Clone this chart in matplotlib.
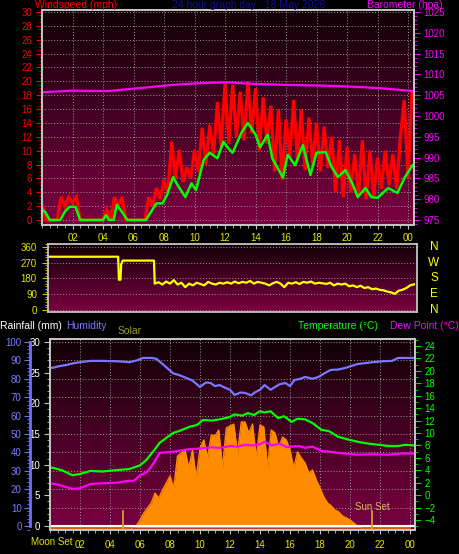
import numpy as np
import matplotlib
matplotlib.use('Agg')
import matplotlib.pyplot as plt
from matplotlib.ticker import MultipleLocator, FixedLocator, NullLocator
from matplotlib.colors import LinearSegmentedColormap
import matplotlib.transforms as mtransforms

plt.rcParams['font.family'] = ['Liberation Sans', 'DejaVu Sans']

W, H = 460, 554

# ---------------- data ----------------
xtick_hours = [2, 4, 6, 8, 10, 12, 14, 16, 18, 20, 22, 24]
xtick_labels = ['02', '04', '06', '08', '10', '12', '14', '16', '18', '20', '22', '00']

# wind gusts (mph), every 15 minutes from 00:00
gust_mph = [2.4, 0, 0, 0, 0, 3.3, 2.0, 3.3, 2.5, 3.3, 0, 0,
            0, 0, 0, 0, 0, 1.5, 0, 3.3, 2.0, 3.3, 0, 0,
            0, 0, 0, 0, 3.3, 2.0, 4.6, 3.0, 5.8, 4.0, 11.3, 6.0,
            10.1, 5.5, 7.6, 6.0, 10.1, 7.0, 13.3, 8.0, 13.7, 9.5, 17.0, 10.5,
            19.8, 11.0, 19.5, 12.0, 18.5, 11.5, 20.0, 12.5, 19.0, 10.0, 17.7, 11.0,
            16.5, 7.0, 15.9, 5.8, 14.5, 9.0, 17.3, 8.5, 15.9, 7.2, 14.8, 8.0,
            14.0, 7.0, 13.5, 7.5, 12.0, 4.0, 11.5, 3.3, 10.5, 4.0, 9.5, 3.5,
            11.5, 3.0, 10.0, 3.5, 9.0, 4.5, 10.0, 5.0, 9.5, 4.5, 12.0, 17.3,
            6.0, 18.3]

avg_hours = [0, 0.2, 0.5, 1.2, 1.5, 1.8, 2.2, 2.5, 4.0, 4.2,
             4.4, 4.7, 4.9, 5.3, 5.6, 6.8, 7.1, 7.5, 7.9, 8.2,
             8.6, 8.9, 9.4, 9.8, 10.1, 10.6, 11.0, 11.5, 11.9, 12.2,
             12.5, 13.1, 13.5, 14.0, 14.3, 14.8, 15.1, 15.8, 16.1, 16.6,
             17.1, 17.6, 18.0, 18.6, 19.0, 19.4, 19.9, 20.4, 20.7, 21.2,
             21.6, 22.0, 22.7, 23.3, 23.8, 24.3]
avg_mph = [1.5, 1.2, 0, 0, 1.2, 1.9, 1.9, 0, 0, 0.7,
           0, 0, 2.2, 1.0, 0, 0, 1.0, 2.4, 2.4, 3.6,
           6.2, 5.0, 3.3, 5.3, 4.3, 8.7, 9.7, 8.9, 11.3, 10.4,
           9.7, 12.7, 14.0, 12.3, 10.5, 12.3, 8.9, 6.1, 9.4, 7.9,
           10.8, 6.5, 9.7, 9.8, 7.6, 6.2, 7.2, 5.0, 3.3, 4.6,
           3.3, 3.2, 4.6, 3.9, 6.2, 7.9]

baro_hours = [0, 2, 4.3, 6.4, 8.6, 10.4, 12.1, 14, 16.4, 18.5, 20.7, 22.5, 24.3]
baro_hpa = [1005.7, 1006.1, 1006.0, 1006.7, 1007.5, 1007.9, 1008.1, 1007.7,
            1007.45, 1007.3, 1007.0, 1006.6, 1006.0]

# wind direction (degrees)
dir_hours_early = [0, 4.6, 4.65, 4.75, 4.8, 4.9, 6.95]
dir_deg_early = [303, 303, 172, 172, 260, 281, 281]
# every 15 minutes from 07:00 to 24:00
dir_deg_late = [150, 158, 145, 162, 150, 170, 145, 155, 130, 150, 140, 155,
                148, 140, 160, 150, 145, 155, 150, 158, 150, 162, 152, 160,
                155, 165, 150, 160, 155, 150, 140, 152, 160, 150, 130, 155,
                150, 158, 148, 160, 155, 162, 150, 155, 152, 148, 155, 140,
                150, 145, 150, 135, 140, 130, 138, 125, 130, 118, 122, 115,
                112, 105, 100, 92, 110, 115, 125, 140, 146]
compass = ['N', 'W', 'S', 'E', 'N']
compass_deg = [360, 270, 180, 90, 0]

# solar (W/m2), every 15 minutes from 00:00
solar_wm2 = [0] * 20 + [0, 0, 0, 13,
             51, 95, 127, 159, 222, 190, 241, 286, 330, 254, 457, 476,
             495, 381, 495, 318, 508, 559, 445, 591, 584, 622, 381, 635,
             648, 660, 476, 673, 673, 603, 660, 445, 654, 641, 381, 622,
             603, 508, 578, 559, 495, 381, 483, 445, 413, 349, 368, 305,
             254, 197, 159, 140, 114, 102, 76, 64, 51, 32, 13, 0] + [0] * 13

temp_hours = [0, 0.2, 0.8, 1.5, 2.0, 2.7, 3.5, 4.3, 5.3, 6.0,
              6.4, 6.7, 7.0, 7.3, 7.8, 8.2, 8.7, 9.3, 9.8, 10.2,
              10.8, 11.3, 11.7, 12.0, 12.3, 12.8, 13.2, 13.6, 14.0, 14.3,
              14.7, 15.2, 15.6, 16.1, 16.5, 17.0, 17.5, 18.1, 18.6, 19.2,
              19.8, 20.5, 21.2, 21.9, 22.6, 23.2, 23.7, 24.3]
temp_c = [4.4, 4.4, 4.0, 3.2, 3.4, 3.9, 3.8, 4.0, 4.2, 4.8,
          5.6, 6.5, 7.4, 8.4, 9.3, 10.0, 10.4, 11.0, 11.3, 12.1,
          12.0, 12.2, 12.4, 12.6, 13.0, 12.8, 13.2, 12.9, 13.5, 13.3,
          13.5, 12.4, 12.7, 11.8, 12.3, 12.2, 11.6, 10.5, 10.3, 9.4,
          9.0, 8.6, 8.3, 8.1, 7.9, 7.9, 8.1, 8.0]

dew_hours = [0, 0.3, 0.8, 1.5, 2.0, 2.7, 3.5, 4.5, 5.2, 5.6,
             6.0, 6.4, 6.7, 7.0, 7.3, 7.8, 8.2, 9.3, 10.0, 10.7,
             11.3, 12.0, 12.5, 13.0, 13.5, 14.0, 14.3, 14.8, 15.3, 15.8,
             16.1, 16.6, 17.0, 17.5, 18.1, 18.6, 19.2, 19.8, 20.5, 21.5,
             22.5, 23.5, 24.3]
dew_c = [1.9, 1.8, 1.5, 1.0, 1.1, 1.8, 1.9, 2.0, 2.3, 2.3,
         3.2, 3.6, 4.4, 5.5, 6.8, 6.9, 7.0, 7.4, 7.5, 7.7,
         7.6, 7.9, 7.8, 8.1, 8.0, 8.2, 8.6, 8.0, 8.3, 7.7,
         7.8, 7.9, 7.6, 7.8, 7.1, 7.0, 6.8, 6.7, 6.5, 6.6,
         6.5, 6.7, 6.7]

hum_hours = [0, 0.2, 0.7, 1.1, 1.6, 2.0, 2.7, 3.5, 4.5, 5.3,
             5.8, 6.2, 6.8, 7.1, 7.5, 7.8, 8.2, 8.6, 9.1, 9.5,
             10.0, 10.4, 10.7, 11.0, 11.3, 11.7, 12.0, 12.3, 12.7, 13.0,
             13.4, 13.7, 14.0, 14.3, 14.7, 15.0, 15.3, 15.7, 16.0, 16.3,
             16.7, 17.0, 17.5, 17.9, 18.3, 18.7, 19.2, 19.7, 20.1, 20.5,
             21.0, 21.5, 22.2, 22.8, 23.2, 24.3]
hum_pct = [86, 86, 87, 87.5, 88.5, 89, 89.7, 89.7, 89.5, 89,
           90, 91.3, 91.3, 90.8, 88, 85.9, 83, 82, 80.4, 79,
           75.5, 78, 77.7, 76, 76.6, 75, 74, 71.2, 72.5, 72.3,
           71, 72.8, 74, 76.6, 74, 75.5, 77, 77.7, 76, 79.3,
           80, 81, 80, 81, 83, 84.8, 85, 85.9, 87, 88,
           88.5, 89, 89.5, 89.7, 91.3, 91.3]

rain_hours = [0, 24.33]
rain_mm = [0, 0]

moonset_hour = 4.85
sunset_hour = 21.47

# ---------------- styling helpers ----------------
def rect(x0, y0, x1, y1):
    return [x0 / W, 1 - y1 / H, (x1 - x0) / W, (y1 - y0) / H]

BG_CMAP = LinearSegmentedColormap.from_list('bg', ['#120006', '#7c0042'])
grad = np.linspace(0, 1, 256).reshape(-1, 1)
SPINE = '#c4c4c4'
GRID = '#9a9a9a'
FS = 7

fig = plt.figure(figsize=(W / 100, H / 100), dpi=100, facecolor='black')


def background(r):
    b = fig.add_axes(r)
    b.imshow(grad, aspect='auto', cmap=BG_CMAP, extent=[0, 1, 0, 1])
    b.set_axis_off()
    return b


def style_spines(ax, color=SPINE):
    for s in ax.spines.values():
        s.set_color(color)
        s.set_linewidth(1.3)


# ================= top panel: wind & barometer =================
r1 = rect(42, 10, 414, 225)
background(r1)
ax1 = fig.add_axes(r1)
ax1.patch.set_alpha(0)
ax1.set_xlim(0, 24.39)
ax1.set_ylim(-0.72, 30.29)
style_spines(ax1)
ax1.yaxis.set_major_locator(MultipleLocator(2))
ax1.yaxis.set_minor_locator(MultipleLocator(0.5))
ax1.xaxis.set_major_locator(FixedLocator(xtick_hours))
ax1.set_xticklabels(xtick_labels)
ax1.xaxis.set_minor_locator(MultipleLocator(0.5))
ax1.tick_params(axis='y', which='both', colors='#ff0000', labelsize=FS, length=4, pad=3)
ax1.tick_params(axis='y', which='minor', length=2)
ax1.tick_params(axis='x', which='both', colors=SPINE, labelcolor='#e6e600', labelsize=FS,
                length=3, pad=3)
ax1.tick_params(axis='x', which='minor', length=2)
ax1.grid(True, which='major', color=GRID, linestyle=(0, (1, 2)), linewidth=0.7)
hours_15 = np.arange(len(gust_mph)) * 0.25
ax1.plot(hours_15, gust_mph, color='#ff0000', lw=2.3, solid_joinstyle='miter')
ax1.plot(avg_hours, avg_mph, color='#00ff00', lw=1.8)

ax1b = ax1.twinx()
ax1b.set_ylim(975 + (-0.72) * 5 / 3, 975 + 30.29 * 5 / 3)
style_spines(ax1b)
ax1b.yaxis.set_major_locator(MultipleLocator(5))
ax1b.yaxis.set_minor_locator(MultipleLocator(1))
ax1b.tick_params(axis='y', which='both', colors='#ff00ff', labelsize=FS, length=4, pad=3)
ax1b.tick_params(axis='y', which='minor', length=2)
ax1b.plot(baro_hours, baro_hpa, color='#ff00ff', lw=1.6)

ty = 1 - 4.5 / H
fig.text(35 / W, ty, 'Windspeed (mph)', color='#ff0000', fontsize=7.5, ha='left', va='center')
fig.text(249 / W, ty, '24 hour graph day : 18 May 2026', color='#10109a', fontsize=7.5,
         ha='center', va='center')
fig.text(367 / W, ty, 'Barometer (hpa)', color='#ff00ff', fontsize=7.5, ha='left', va='center')

# ================= middle panel: wind direction =================
r2 = rect(48, 244, 417, 312)
background(r2)
ax2 = fig.add_axes(r2)
ax2.patch.set_alpha(0)
ax2.set_xlim(0, 24.2)
ax2.set_ylim(-11.4, 375.4)
style_spines(ax2)
ax2.yaxis.set_major_locator(FixedLocator(compass_deg))
ax2.yaxis.set_minor_locator(MultipleLocator(15))
ax2.xaxis.set_major_locator(NullLocator())
ax2.tick_params(axis='y', which='both', colors='#c8c800', labelcolor='#e6e600', labelsize=FS,
                length=4, pad=4)
ax2.tick_params(axis='y', which='minor', length=2)
ax2.grid(True, axis='y', color=GRID, linestyle=(0, (1, 2)), linewidth=0.7)
dir_hours_late = 7.0 + np.arange(len(dir_deg_late)) * 0.25
ax2.plot(list(dir_hours_early) + list(dir_hours_late), dir_deg_early + dir_deg_late,
         color='#ffff00', lw=1.6)
tr = mtransforms.blended_transform_factory(ax2.transAxes, ax2.transData)
for lab, d in zip(compass, compass_deg):
    ax2.text((434 - 48) / 369, d, lab, transform=tr, color='#ffff00', fontsize=8.5,
             ha='center', va='center')

# ================= bottom panel =================
hy = 1 - 326 / H
fig.text(0, hy, 'Rainfall (mm)', color='white', fontsize=7.5, ha='left', va='center')
fig.text(66 / W, hy, 'Humidity', color='#7b7bff', fontsize=7.5, ha='left', va='center')
fig.text(118 / W, 1 - 331 / H, 'Solar', color='#9c9c20', fontsize=7.5, ha='left', va='center')
fig.text(378 / W, hy, 'Temperature (°C)', color='#00ff00', fontsize=7.5, ha='right', va='center')
fig.text(459 / W, hy, 'Dew Point (°C)', color='#ff00ff', fontsize=7.5, ha='right', va='center')

r3 = rect(50, 339, 415, 530)
background(r3)
ax3 = fig.add_axes(r3)
ax3.patch.set_alpha(0)
ax3.set_xlim(0, 24.33)
ax3.set_ylim(-0.65, 30.49)
style_spines(ax3)
ax3.yaxis.set_major_locator(MultipleLocator(5))
ax3.yaxis.set_minor_locator(MultipleLocator(1))
ax3.xaxis.set_major_locator(FixedLocator(xtick_hours))
ax3.set_xticklabels(xtick_labels)
ax3.xaxis.set_minor_locator(MultipleLocator(0.5))
ax3.tick_params(axis='y', which='both', colors=SPINE, labelcolor='white', labelsize=FS,
                length=4, pad=3)
ax3.tick_params(axis='y', which='minor', length=2)
ax3.tick_params(axis='x', which='both', colors=SPINE, labelcolor='#e6e600', labelsize=FS,
                length=3, pad=4)
ax3.tick_params(axis='x', which='minor', length=2)
# horizontal grid every 10 % humidity (= 3 mm), vertical every 2 h
for g in np.arange(0, 31, 3):
    ax3.axhline(g, color=GRID, linestyle=(0, (1, 2)), linewidth=0.7, zorder=0.5)
ax3.grid(True, axis='x', color=GRID, linestyle=(0, (1, 2)), linewidth=0.7)

# solar (hidden axis)
axS = ax3.twinx()
axS.set_ylim(-12.7, 1200)
axS.set_axis_off()
solar_hours = np.arange(len(solar_wm2)) * 0.25
axS.fill_between(solar_hours, 0, solar_wm2, color='#ff8c00', lw=0)
axS.plot(solar_hours, solar_wm2, color='#ff8c00', lw=1.0)

# rainfall line
axR = ax3.twinx()
axR.set_ylim(-0.65, 30.49)
axR.set_axis_off()
axR.plot(rain_hours, rain_mm, color='white', lw=1.5)
axR.plot([moonset_hour, moonset_hour], [-0.65, 2.45], color='#d4a020', lw=1.3)
axR.plot([sunset_hour, sunset_hour], [-0.65, 2.45], color='#d4a020', lw=1.3)
axR.text(sunset_hour, 3.1, 'Sun Set', color='#d8b860', fontsize=7, ha='center', va='center')

# humidity
axH = ax3.twinx()
axH.set_ylim(-2.17, 101.6)
for k in ['right', 'top', 'bottom']:
    axH.spines[k].set_visible(False)
axH.spines['left'].set_position(('axes', -20 / 365))
axH.spines['left'].set_color('#7070ff')
axH.spines['left'].set_linewidth(2)
axH.spines['left'].set_bounds(0, 100)
axH.yaxis.set_ticks_position('left')
axH.yaxis.set_label_position('left')
axH.yaxis.set_major_locator(MultipleLocator(10))
axH.yaxis.set_minor_locator(MultipleLocator(2))
axH.tick_params(axis='y', which='both', colors='#7070ff', labelcolor='#7b7bff', labelsize=FS,
                length=4, pad=2)
axH.tick_params(axis='y', which='minor', length=2)
axH.plot(hum_hours, hum_pct, color='#7878ff', lw=1.6)

# temperature / dew point
axT = ax3.twinx()
axT.set_ylim(-5.61, 25.13)
style_spines(axT)
axT.set_yticks(np.arange(-4, 25, 2))
axT.yaxis.set_minor_locator(MultipleLocator(1))
axT.tick_params(axis='y', which='both', colors='#00dd00', labelcolor='#00ff00', labelsize=FS,
                length=4, pad=3)
axT.tick_params(axis='y', which='minor', length=2)
axT.plot(dew_hours, dew_c, color='#ff00ff', lw=1.6)
axT.plot(temp_hours, temp_c, color='#00ff00', lw=1.6)

fig.text(73 / W, 1 - 542 / H, 'Moon Set', color='#e6e600', fontsize=FS, ha='right', va='center')

fig.savefig('out.png', dpi=100, facecolor='black')
